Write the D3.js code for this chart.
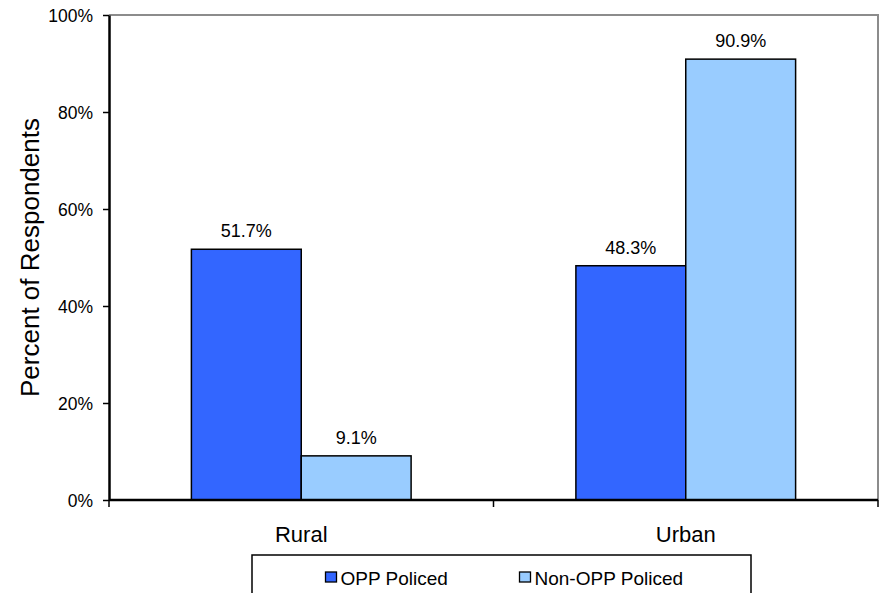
<!DOCTYPE html>
<html>
<head>
<meta charset="utf-8">
<script src="https://cdn.jsdelivr.net/npm/d3@7"></script>
<style>
  html, body { margin: 0; padding: 0; background: #fff; }
  svg { display: block; font-family: "Liberation Sans", Arial, sans-serif; }
</style>
</head>
<body>
<svg id="chart" width="880" height="593"></svg>
<script>
// Share of respondents by area type, split by policing service
const categories = ["Rural", "Urban"];
const seriesNames = ["OPP Policed", "Non-OPP Policed"];
const oppPoliced = [51.7, 48.3];
const nonOppPoliced = [9.1, 90.9];
const seriesColors = ["#3366ff", "#99ccff"];
const yTicks = [0, 20, 40, 60, 80, 100];

const svg = d3.select("#chart");
const plot = { left: 109, top: 15, right: 878, bottom: 500 };

const x = d3.scaleBand()
  .domain(categories)
  .range([plot.left, plot.right])
  .padding(0);

const x1 = d3.scaleBand()
  .domain(seriesNames)
  .range([0, x.bandwidth()])
  .paddingInner(0)
  .paddingOuter(0.75);

const y = d3.scaleLinear().domain([0, 100]).range([plot.bottom, plot.top]);

// Plot frame (top and right edges)
svg.append("path")
  .attr("d", `M${plot.left},${plot.top}H${plot.right}V${plot.bottom}`)
  .attr("fill", "none")
  .attr("stroke", "#8c8c8c")
  .attr("stroke-width", 2);

const table = categories.map((c, i) => ({
  category: c,
  values: [
    { series: seriesNames[0], value: oppPoliced[i], color: seriesColors[0] },
    { series: seriesNames[1], value: nonOppPoliced[i], color: seriesColors[1] }
  ]
}));

const groups = svg.append("g").selectAll("g")
  .data(table)
  .join("g")
  .attr("transform", d => `translate(${x(d.category)},0)`);

groups.selectAll("rect")
  .data(d => d.values)
  .join("rect")
  .attr("x", d => x1(d.series))
  .attr("width", x1.bandwidth())
  .attr("y", d => y(d.value))
  .attr("height", d => y(0) - y(d.value))
  .attr("fill", d => d.color)
  .attr("stroke", "#000")
  .attr("stroke-width", 1.5);

groups.selectAll("text")
  .data(d => d.values)
  .join("text")
  .attr("x", d => x1(d.series) + x1.bandwidth() / 2)
  .attr("y", d => y(d.value) - 12)
  .attr("text-anchor", "middle")
  .attr("font-size", 18)
  .attr("fill", "#000")
  .text(d => d.value.toFixed(1) + "%");

// Y axis
const yAxis = svg.append("g")
  .attr("transform", `translate(${plot.left},0)`)
  .call(d3.axisLeft(y).tickValues(yTicks).tickFormat(d => d + "%").tickSize(6).tickSizeOuter(0));
yAxis.select(".domain").attr("stroke", "#000").attr("stroke-width", 2.5);
yAxis.selectAll(".tick line").attr("stroke", "#000").attr("stroke-width", 1.5);
yAxis.selectAll(".tick text")
  .attr("font-size", 17.5)
  .attr("font-family", "Liberation Sans, Arial, sans-serif")
  .attr("fill", "#000")
  .attr("x", -16)
  .attr("dy", "0.36em");

// X axis with ticks at category boundaries
const xAxis = svg.append("g")
  .attr("transform", `translate(0,${plot.bottom})`);
xAxis.append("line")
  .attr("x1", plot.left).attr("x2", plot.right)
  .attr("stroke", "#000").attr("stroke-width", 2.5);
const boundaries = [plot.left].concat(categories.map(c => x(c) + x.bandwidth()));
xAxis.selectAll(".bound")
  .data(boundaries)
  .join("line")
  .attr("class", "bound")
  .attr("x1", d => d).attr("x2", d => d)
  .attr("y1", 0).attr("y2", 7)
  .attr("stroke", "#000").attr("stroke-width", 1.5);
xAxis.selectAll(".cat")
  .data(categories)
  .join("text")
  .attr("class", "cat")
  .attr("x", d => x(d) + x.bandwidth() / 2)
  .attr("y", 41.5)
  .attr("text-anchor", "middle")
  .attr("font-size", 22)
  .attr("fill", "#000")
  .text(d => d);

// Y axis title
svg.append("text")
  .attr("transform", `translate(39,${(plot.top + plot.bottom) / 2}) rotate(-90)`)
  .attr("text-anchor", "middle")
  .attr("font-size", 26)
  .attr("fill", "#000")
  .text("Percent of Respondents");

// Legend
const legend = svg.append("g");
legend.append("rect")
  .attr("x", 252).attr("y", 555)
  .attr("width", 499).attr("height", 60)
  .attr("fill", "#fff")
  .attr("stroke", "#000")
  .attr("stroke-width", 1.5);
const legendX = [325, 519];
const items = legend.selectAll(".item")
  .data(seriesNames)
  .join("g")
  .attr("class", "item")
  .attr("transform", (d, i) => `translate(${legendX[i]},0)`);
items.append("rect")
  .attr("x", 0.5).attr("y", 572)
  .attr("width", 11).attr("height", 10)
  .attr("fill", (d, i) => seriesColors[i])
  .attr("stroke", "#000")
  .attr("stroke-width", 1.3);
items.append("text")
  .attr("x", 15.5).attr("y", 584.5)
  .attr("font-size", 19)
  .attr("fill", "#000")
  .text(d => d);
</script>
</body>
</html>
